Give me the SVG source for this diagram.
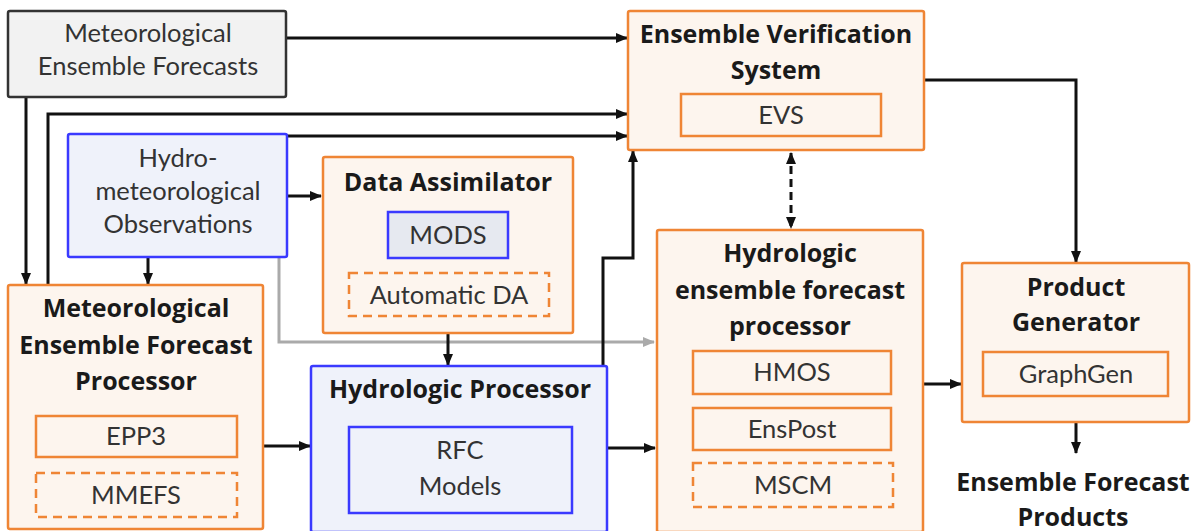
<svg xmlns="http://www.w3.org/2000/svg" width="1193" height="531" viewBox="0 0 1193 531">
<style>
.org{fill:#fdf5ee;stroke:#ef8535;stroke-width:2.5}
.inner{fill:#fdf5ee;stroke:#ef8535;stroke-width:2.5}
.dash{fill:#fdf5ee;stroke:#ef8535;stroke-width:2.5;stroke-dasharray:9 6}
.blue{fill:#eff2fa;stroke:#3a3aff;stroke-width:2.5}
.mods{fill:#e6e9f0;stroke:#3a3aff;stroke-width:2.5}
.grey{fill:#f2f2f2;stroke:#333;stroke-width:2.5}
.t{font-family:Lato,"Open Sans",sans-serif;font-size:25.5px;fill:#333;text-anchor:middle}
.b{font-family:"Open Sans",Lato,sans-serif;font-size:25px;font-weight:bold;fill:#1a1a1a;text-anchor:middle}
.c{fill:none;stroke:#111;stroke-width:3}
.cg{fill:none;stroke:#aaa;stroke-width:3}
</style>
<defs>
<marker id="ah" markerWidth="12" markerHeight="10" refX="11" refY="5" orient="auto" markerUnits="userSpaceOnUse"><path d="M0,0 L12,5 L0,10 Z" fill="#111"/></marker>
<marker id="ahg" markerWidth="12" markerHeight="10" refX="11" refY="5" orient="auto" markerUnits="userSpaceOnUse"><path d="M0,0 L12,5 L0,10 Z" fill="#aaa"/></marker>
<marker id="as" markerWidth="12" markerHeight="10" refX="1" refY="5" orient="auto" markerUnits="userSpaceOnUse"><path d="M12,0 L0,5 L12,10 Z" fill="#111"/></marker>
</defs>

<g id="connectors">
<path class="c" d="M286,38 H627" marker-end="url(#ah)"/>
<path class="c" d="M26,97 V284" marker-end="url(#ah)"/>
<path class="c" d="M48,285 V114 H627" marker-end="url(#ah)"/>
<path class="c" d="M287,136 H627" marker-end="url(#ah)"/>
<path class="c" d="M287,196 H321" marker-end="url(#ah)"/>
<path class="c" d="M148,257 V284" marker-end="url(#ah)"/>
<path class="cg" d="M279,257 V342 H654" marker-end="url(#ahg)"/>
<path class="c" d="M448,333 V365" marker-end="url(#ah)"/>
<path class="c" d="M263,446 H310" marker-end="url(#ah)"/>
<path class="c" d="M603,366 V258 H633 V151" marker-end="url(#ah)"/>
<path class="c" d="M607,448 H655" marker-end="url(#ah)"/>
<path class="c" d="M791,153 V228" stroke-dasharray="8 5" marker-start="url(#as)" marker-end="url(#ah)"/>
<path class="c" d="M924,80 H1076 V262" marker-end="url(#ah)"/>
<path class="c" d="M923,384 H961" marker-end="url(#ah)"/>
<path class="c" d="M1076,422 V453" marker-end="url(#ah)"/>
</g>

<g id="met-forecasts">
<rect class="grey" x="8" y="11" width="278" height="86" rx="2"/>
<text class="t" x="148" y="42">Meteorological</text>
<text class="t" x="148" y="75">Ensemble Forecasts</text>
</g>

<g id="hydromet-obs">
<rect class="blue" x="68" y="134" width="219" height="123" rx="2"/>
<text class="t" x="178" y="167">Hydro-</text>
<text class="t" x="178" y="200">meteorological</text>
<text class="t" x="178" y="233">Observations</text>
</g>

<g id="data-assimilator">
<rect class="org" x="323" y="157" width="250" height="176" rx="2"/>
<text class="b" x="448" y="191">Data Assimilator</text>
<rect class="mods" x="388" y="212" width="120" height="46"/>
<text class="t" x="448" y="244">MODS</text>
<rect class="dash" x="349" y="273" width="200" height="43"/>
<text class="t" x="449" y="304">Automatic DA</text>
</g>

<g id="met-processor">
<rect class="org" x="8" y="285" width="255" height="244" rx="2"/>
<text class="b" x="136" y="317">Meteorological</text>
<text class="b" x="136" y="354">Ensemble Forecast</text>
<text class="b" x="136" y="390">Processor</text>
<rect class="inner" x="36" y="416" width="201" height="41"/>
<text class="t" x="136" y="445">EPP3</text>
<rect class="dash" x="36" y="473" width="201" height="44"/>
<text class="t" x="136" y="504">MMEFS</text>
</g>

<g id="hydrologic-processor">
<rect class="blue" x="311" y="366" width="296" height="166" rx="2"/>
<text class="b" x="460" y="398">Hydrologic Processor</text>
<rect class="blue" x="349" y="427" width="223" height="86"/>
<text class="t" x="460" y="459">RFC</text>
<text class="t" x="460" y="495">Models</text>
</g>

<g id="evs">
<rect class="org" x="628" y="11" width="296" height="139" rx="2"/>
<text class="b" x="776" y="43">Ensemble Verification</text>
<text class="b" x="776" y="79">System</text>
<rect class="inner" x="681" y="94" width="200" height="42"/>
<text class="t" x="781" y="124">EVS</text>
</g>

<g id="hefp">
<rect class="org" x="657" y="230" width="266" height="302" rx="2"/>
<text class="b" x="790" y="262">Hydrologic</text>
<text class="b" x="790" y="299">ensemble forecast</text>
<text class="b" x="790" y="335">processor</text>
<rect class="inner" x="693" y="351" width="198" height="43"/>
<text class="t" x="792" y="381">HMOS</text>
<rect class="inner" x="693" y="408" width="198" height="42"/>
<text class="t" x="792" y="438">EnsPost</text>
<rect class="dash" x="693" y="463" width="200" height="44"/>
<text class="t" x="793" y="494">MSCM</text>
</g>

<g id="product-generator">
<rect class="org" x="962" y="263" width="227" height="159" rx="2"/>
<text class="b" x="1076" y="296">Product</text>
<text class="b" x="1076" y="331">Generator</text>
<rect class="inner" x="983" y="352" width="185" height="44"/>
<text class="t" x="1076" y="383">GraphGen</text>
</g>

<g id="products-label">
<text class="b" x="1073" y="491">Ensemble Forecast</text>
<text class="b" x="1073" y="526">Products</text>
</g>
</svg>
